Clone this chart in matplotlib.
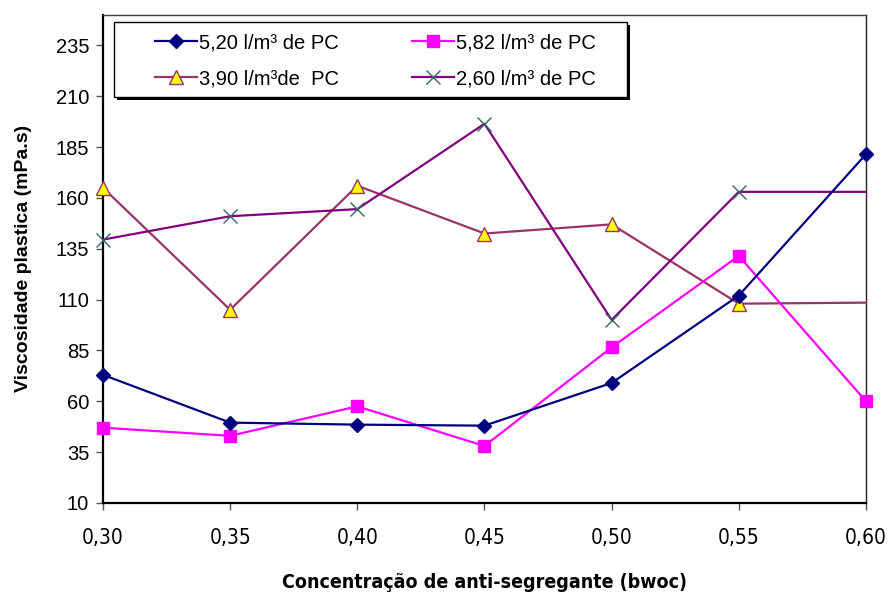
import matplotlib
matplotlib.use("Agg")
import matplotlib.pyplot as plt
from matplotlib.patches import Rectangle
from matplotlib.transforms import ScaledTranslation
from matplotlib.ticker import FuncFormatter

# dosagem de anti-segregante (bwoc)
concentracao = [0.30, 0.35, 0.40, 0.45, 0.50, 0.55, 0.60]

# viscosidade plastica (mPa.s) por teor de PC
visc_520 = [73, 49.5, 48.5, 48, 69, 112, 181.5]
visc_582 = [47, 43, 57.5, 38, 86.5, 131.5, 60]
visc_390 = [165, 105, 166, 142.5, 147, 108, 108.5]
visc_260 = [139.5, 151, 154.5, 196.5, 100, 163, 163]

legendas = ["5,20 l/m³ de PC", "5,82 l/m³ de PC", "3,90 l/m³de  PC", "2,60 l/m³ de PC"]

plt.rcParams['font.family'] = ['Liberation Sans', 'DejaVu Sans']
narrow = ['Liberation Sans Narrow', 'DejaVu Sans']

fig = plt.figure(figsize=(8.9, 5.98), dpi=100)
ax = fig.add_axes([0.1157, 0.159, 0.8573, 0.816])

l1, = ax.plot(concentracao, visc_520, color='#000080', lw=1.6, marker='D', ms=7.5,
              mfc='#000080', mec='#000080', clip_on=False, zorder=5)
l2, = ax.plot(concentracao, visc_582, color='#FF00FF', lw=1.6, marker='s', ms=8.5,
              mfc='#FF00FF', mec='#FF00FF', clip_on=False, zorder=4)
l3, = ax.plot(concentracao, visc_390, color='#993366', lw=1.6, marker='^', ms=10,
              mfc='#FFFF00', mec='#993366', mew=1.0, markevery=range(6),
              clip_on=False, zorder=3)
l4, = ax.plot(concentracao, visc_260, color='#800080', lw=1.6, marker='x', ms=10,
              mec='#336666', mew=1.0, markevery=range(6), clip_on=False, zorder=3)

ax.set_xlim(0.30, 0.60)
ax.set_ylim(10, 250)
ax.set_xticks(concentracao)
ax.set_yticks(range(10, 236, 25))
ax.xaxis.set_major_formatter(FuncFormatter(lambda v, p: f"{v:.2f}".replace('.', ',')))

for s in ax.spines.values():
    s.set_linewidth(1.0)
ax.spines['left'].set_linewidth(1.6)
ax.spines['bottom'].set_linewidth(1.6)
ax.spines['top'].set_color('#404040')
ax.spines['right'].set_color('#202020')

ax.tick_params(axis='y', direction='out', length=5, width=1, color='#555555',
               labelsize=14.5, pad=5)
ax.tick_params(axis='x', direction='out', length=5, width=1, color='#555555',
               labelsize=15, pad=13)
for t in ax.get_xticklabels():
    t.set_family(narrow)
    t.set_stretch('condensed')

ax.set_ylabel("Viscosidade plastica (mPa.s)", fontsize=14, fontweight='bold', labelpad=17)
ax.set_xlabel("Concentração de anti-segregante (bwoc)", fontsize=14,
              fontweight='bold', family=narrow, fontstretch='condensed', labelpad=18)

# caixa da legenda com sombra preta deslocada
caixa_xy, caixa_w, caixa_h = (0.0144, 0.8326), 0.672, 0.1534
desloc = ax.transAxes + ScaledTranslation(3 / 100, -3 / 100, fig.dpi_scale_trans)
sombra = Rectangle(caixa_xy, caixa_w, caixa_h, transform=desloc,
                   facecolor='black', edgecolor='none', zorder=9.5, clip_on=False)
caixa = Rectangle(caixa_xy, caixa_w, caixa_h, transform=ax.transAxes,
                  facecolor='white', edgecolor='black', lw=1.0, zorder=10, clip_on=False)
ax.add_artist(sombra)
ax.add_artist(caixa)

leg = ax.legend([l1, l3, l2, l4], [legendas[0], legendas[2], legendas[1], legendas[3]],
                ncol=2, loc='upper left', bbox_to_anchor=(0.068, 0.963),
                borderaxespad=0, borderpad=0, fontsize=14.5, handlelength=2.1,
                handletextpad=0.1, labelspacing=0.85, columnspacing=3.6,
                frameon=False)
leg.set_zorder(11)

fig.savefig("out.png", dpi=100)
